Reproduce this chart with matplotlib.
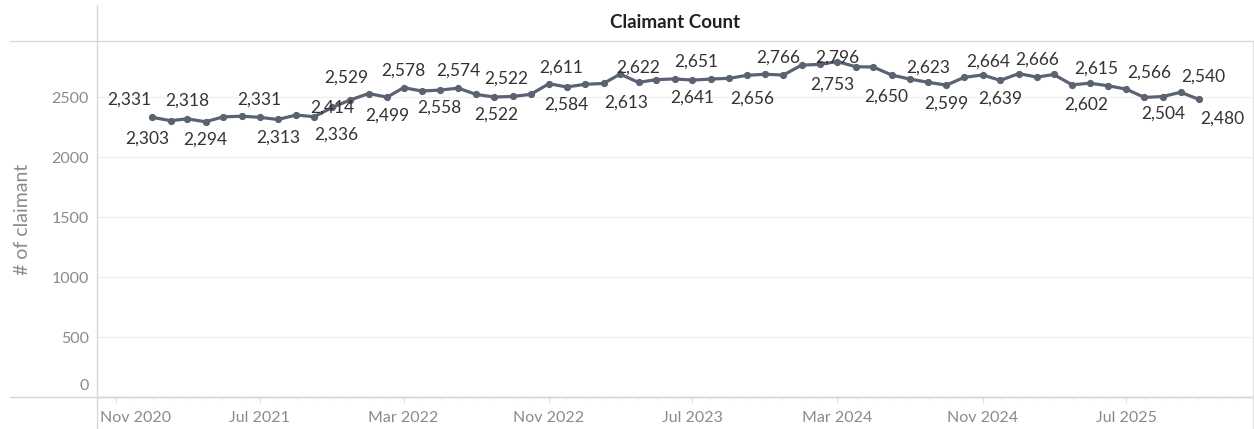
import matplotlib
matplotlib.use("Agg")
import matplotlib.pyplot as plt
import matplotlib.dates as mdates
from matplotlib.transforms import ScaledTranslation
import pandas as pd

# ---------------- data ----------------
start_month = "2021-01-01"
claimants = [2331, 2303, 2318, 2294, 2335, 2340, 2331, 2313, 2350, 2336,
             2414, 2476, 2529, 2499, 2578, 2550, 2558, 2574, 2522, 2500,
             2505, 2522, 2611, 2584, 2606, 2613, 2691, 2622, 2645, 2651,
             2641, 2650, 2656, 2681, 2690, 2683, 2766, 2772, 2796, 2753,
             2750, 2683, 2650, 2623, 2599, 2664, 2684, 2639, 2695, 2666,
             2688, 2602, 2615, 2594, 2566, 2497, 2504, 2540, 2480]
labeled_idx = [0, 1, 2, 3, 6, 7, 9, 10, 12, 13, 14, 16, 17, 18, 21, 22, 23,
               25, 27, 29, 30, 32, 36, 38, 39, 42, 43, 44, 45, 47, 49, 51,
               52, 54, 56, 57, 58]
tick_labels = ["Nov 2020", "Jul 2021", "Mar 2022", "Nov 2022", "Jul 2023",
               "Mar 2024", "Nov 2024", "Jul 2025"]
y_ticks = [0, 500, 1000, 1500, 2000, 2500]
title = "Claimant Count"
y_title = "# of claimant"

# label offsets in pixels (dx, dy; dy positive = down)
label_offsets = {0: (-23, -18), 1: (-23, 18), 2: (0, -18), 3: (0, 18),
                 6: (0, -18), 7: (0, 18), 9: (22, 18), 10: (0, 0),
                 12: (-22, -16), 13: (0, 18), 14: (0, -17), 16: (0, 18),
                 17: (0, -18), 18: (20, 20), 21: (-24, -16), 22: (12, -16),
                 23: (0, 18), 25: (23, 19), 27: (0, -15), 29: (22, -17),
                 30: (0, 18), 32: (23, 20), 36: (-23, -7), 38: (0, -4),
                 39: (-23, 18), 42: (-23, 18), 43: (0, -15), 44: (0, 18),
                 45: (24, -16), 47: (0, 18), 49: (0, -17), 51: (14, 20),
                 52: (6, -15), 54: (23, -16), 56: (0, 17), 57: (23, -16),
                 58: (23, 19)}

dates = pd.date_range(start_month, periods=len(claimants), freq="MS")
tick_dates = pd.date_range("2020-11-01", periods=len(tick_labels), freq="8MS")

# ---------------- figure ----------------
W, H, DPI = 1254, 429, 100
plt.rcParams["font.family"] = ["Lato", "DejaVu Sans"]
fig = plt.figure(figsize=(W / DPI, H / DPI), dpi=DPI)
fig.patch.set_facecolor("white")

left_px, right_px, top_px, bottom_px = 97, 1253, 41, 397
ax = fig.add_axes([left_px / W, 1 - bottom_px / H,
                   (right_px - left_px) / W, (bottom_px - top_px) / H])

line_color = "#5b6272"
ax.plot(dates, claimants, color=line_color, lw=2.3, marker="o", ms=4.2,
        solid_joinstyle="round", zorder=3)

ax.set_xlim(pd.Timestamp("2020-09-30"), pd.Timestamp("2026-01-31"))
ax.set_ylim(0, 2967)

# gridlines
for v in y_ticks[1:]:
    ax.axhline(v, color="#efefef", lw=0.9, zorder=0)

for s in ["top", "right", "left"]:
    ax.spines[s].set_visible(False)
ax.spines["bottom"].set_color("#d4d4d4")
ax.spines["bottom"].set_linewidth(1.0)

ax.set_yticks(y_ticks)
ax.set_yticklabels([str(v) for v in y_ticks])
ax.tick_params(axis="y", length=0, pad=6, labelsize=11.5, labelcolor="#8a8a8a")
yl = ax.get_yticklabels()
yl[0].set_transform(yl[0].get_transform() +
                    ScaledTranslation(0, 12 / DPI, fig.dpi_scale_trans))

ax.set_xticks(tick_dates)
ax.set_xticklabels(tick_labels)
ax.xaxis.set_minor_locator(mdates.MonthLocator())
ax.tick_params(axis="x", which="major", length=4, color="#e0e0e0", pad=6,
               labelsize=11.5, labelcolor="#8a8a8a")
ax.tick_params(axis="x", which="minor", length=3, color="#ececec")
tl = ax.get_xticklabels()
tl[0].set_horizontalalignment("left")
tl[0].set_transform(tl[0].get_transform() +
                    ScaledTranslation(-16 / DPI, 0, fig.dpi_scale_trans))

ax.set_ylabel(y_title, fontsize=14, color="#8a8a8a")
ax.yaxis.set_label_coords(-66 / (right_px - left_px), 0.5)

# data labels
for i in labeled_idx:
    dx, dy = label_offsets[i]
    ax.annotate(f"{claimants[i]:,}", (dates[i], claimants[i]),
                xytext=(dx * 72 / DPI, -dy * 72 / DPI), textcoords="offset points",
                ha="center", va="center", fontsize=12.5, color="#333333", zorder=4)

# frame lines (Tableau header / borders)
fig.add_artist(plt.Line2D([10 / W, 1], [1 - top_px / H] * 2, color="#d9d9d9", lw=1))
fig.add_artist(plt.Line2D([10 / W, 1], [1 - bottom_px / H] * 2, color="#d4d4d4", lw=1))
fig.add_artist(plt.Line2D([left_px / W] * 2, [0, 1 - 5 / H], color="#d9d9d9", lw=1))
fig.add_artist(plt.Line2D([1252.5 / W] * 2, [0, 1 - top_px / H], color="#e3e3e3", lw=1))

fig.text((left_px + right_px) / 2 / W, 1 - 22 / H, title, ha="center", va="center",
         fontsize=13.5, fontweight="bold", color="#222222")

fig.savefig("out.png", dpi=DPI)
